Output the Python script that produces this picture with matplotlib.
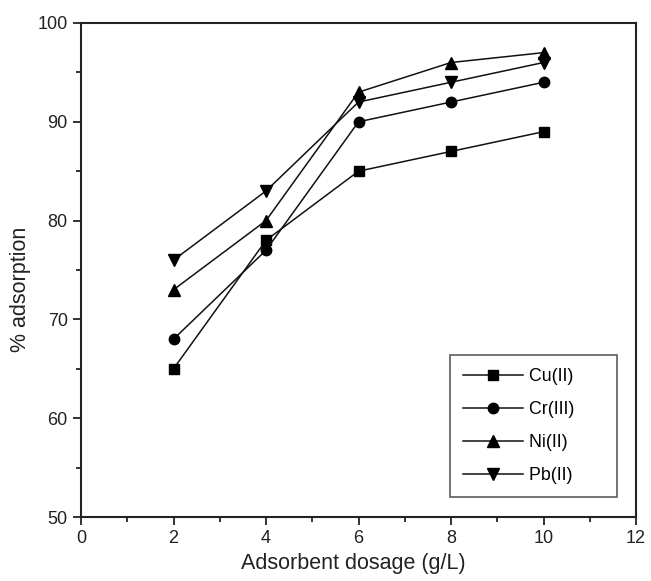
import matplotlib
matplotlib.use("Agg")
import matplotlib.pyplot as plt
from matplotlib.ticker import MultipleLocator

plt.rcParams['font.family'] = ['Liberation Sans', 'DejaVu Sans']

dosage = [2, 4, 6, 8, 10]
cu = [65, 78, 85, 87, 89]
cr = [68, 77, 90, 92, 94]
ni = [73, 80, 93, 96, 97]
pb = [76, 83, 92, 94, 96]
labels = ['Cu(II)', 'Cr(III)', 'Ni(II)', 'Pb(II)']
markers = ['s', 'o', '^', 'v']
msizes = [7, 7.5, 8, 8]

fig = plt.figure(figsize=(6.51, 5.81), dpi=100)
ax = fig.add_axes([81/651, 1-517/581, (636-81)/651, (517-23)/581])

for ys, lab, m, ms in zip([cu, cr, ni, pb], labels, markers, msizes):
    ax.plot(dosage, ys, color='#111111', lw=1.1, marker=m, markersize=ms,
            markerfacecolor='black', markeredgecolor='black', label=lab)

ax.set_xlim(0, 12)
ax.set_ylim(50, 100)
ax.xaxis.set_major_locator(MultipleLocator(2))
ax.xaxis.set_minor_locator(MultipleLocator(1))
ax.yaxis.set_major_locator(MultipleLocator(10))
ax.yaxis.set_minor_locator(MultipleLocator(5))
ax.tick_params(which='major', direction='out', length=6, width=1.3, labelsize=13,
               top=False, right=False, colors='#222222')
ax.tick_params(which='minor', direction='out', length=3.5, width=1.3, top=False, right=False,
               colors='#222222')
for s in ax.spines.values():
    s.set_linewidth(1.5)
    s.set_color('#222222')

ax.set_xlabel('Adsorbent dosage (g/L)', fontsize=15.5, labelpad=4, color='#222222')
ax.set_ylabel('% adsorption', fontsize=15.5, labelpad=5, color='#222222')
ax.xaxis.label.set_x(0.49)
ax.yaxis.label.set_y(0.46)

handles, labs = ax.get_legend_handles_labels()
labs = [l + '\u00a0' * 6 for l in labs]
leg = ax.legend(handles, labs, loc='lower right', bbox_to_anchor=(0.965, 0.04), fontsize=12.8,
                frameon=True, fancybox=False, edgecolor='#333333', handlelength=3.4,
                borderpad=0.75, labelspacing=0.9, handletextpad=0.3, borderaxespad=0)
leg.get_frame().set_linewidth(1.2)

fig.savefig('out.png', dpi=100)
